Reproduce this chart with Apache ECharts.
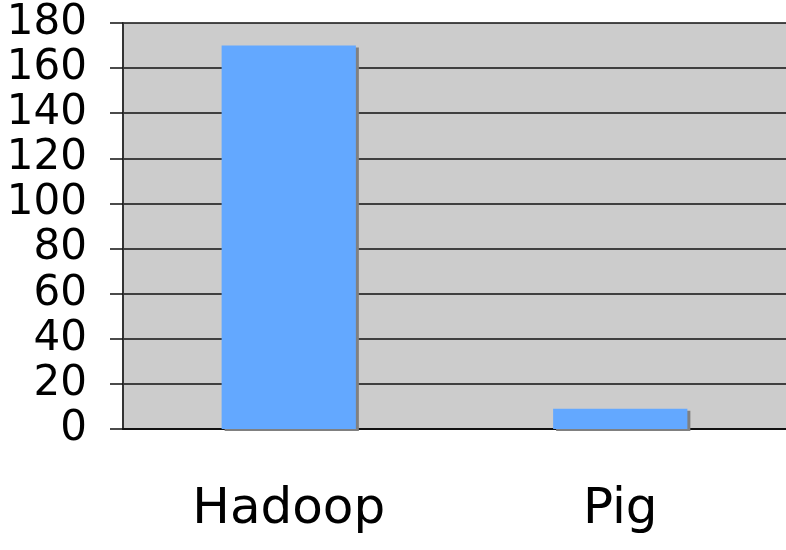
<!DOCTYPE html>
<html>
<head>
<meta charset="utf-8">
<script src="https://cdn.jsdelivr.net/npm/echarts@6/dist/echarts.min.js"></script>
<style>
  html, body { margin: 0; padding: 0; background: #fff; }
  #chart { width: 786px; height: 550px; }
</style>
</head>
<body>
<div id="chart"></div>
<script>
// 数据
const categories = ["Hadoop", "Pig"];
const values = [170, 9];
const yTicks = [0, 20, 40, 60, 80, 100, 120, 140, 160, 180];

const chart = echarts.init(document.getElementById("chart"));

let options = {
    animation: false,
    grid: {
        left: 123,
        right: 0,
        top: 23,
        bottom: 121,
        show: true,
        backgroundColor: "#cccccc",
        borderWidth: 0,
    },
    xAxis: {
        type: "category",
        data: categories,
        axisLine: { lineStyle: { color: "#111", width: 2 } },
        axisTick: { length: 19, lineStyle: { color: "#555", width: 2 } },
        axisLabel: {
            margin: 56,
            fontFamily: "DejaVu Sans",
            fontSize: 50,
            color: "#000",
        },
    },
    yAxis: {
        type: "value",
        min: yTicks[0],
        max: yTicks[yTicks.length - 1],
        interval: 20,
        axisLine: { show: true, lineStyle: { color: "#333", width: 2 } },
        axisTick: { show: true, length: 13, lineStyle: { color: "#111", width: 1.5 } },
        axisLabel: {
            margin: 36,
            fontFamily: "DejaVu Sans",
            fontSize: 42,
            color: "#000",
        },
        splitLine: { lineStyle: { color: "#111", width: 1.5 } },
    },
    series: [{
        type: "bar",
        data: values,
        barWidth: "40.5%",
        //柱子样式
        itemStyle: {
            color: "#63a8ff",
            shadowColor: "#808080",
            shadowOffsetX: 3,
            shadowOffsetY: 2,
            shadowBlur: 0,
        },
    }],
};
chart.setOption(options);
</script>
</body>
</html>
